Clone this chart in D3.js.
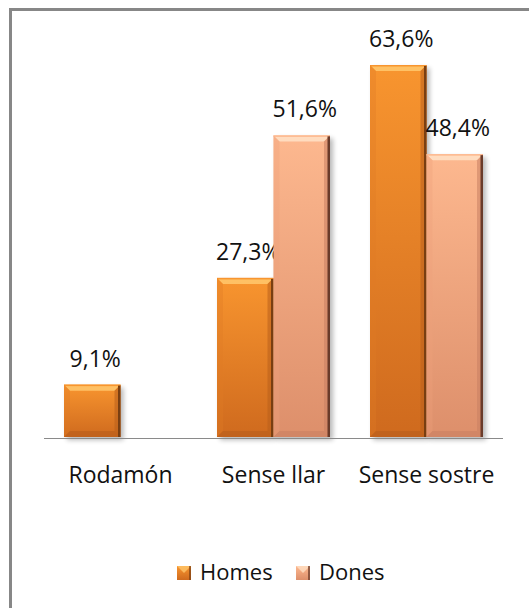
<!DOCTYPE html>
<html><head><meta charset="utf-8">
<script src="https://cdn.jsdelivr.net/npm/d3@7"></script>
<style>body{margin:0;background:#fff}svg{display:block}text{font-family:"Open Sans",sans-serif;fill:#111}</style>
</head><body>
<script>
const categories = ["Rodamón", "Sense llar", "Sense sostre"];
const seriesNames = ["Homes", "Dones"];
const homes = [9.1, 27.3, 63.6];
const dones = [null, 51.6, 48.4];
const valueLabels = [["9,1%", "27,3%", "63,6%"], [null, "51,6%", "48,4%"]];

const W = 529, H = 608;
const svg = d3.select("body").append("svg").attr("width", W).attr("height", H);
svg.append("rect").attr("width", W).attr("height", H).attr("fill", "#fff");

const defs = svg.append("defs");
const styles = {
  Homes: {top:"#F8952F", bot:"#CF6A1E", hi:"#FFC56A", edge:"#7A3F12", botBevel:"#B85E1C", left:"#E07A24"},
  Dones: {top:"#FDB88F", bot:"#DD8F6B", hi:"#FFE0C4", edge:"#6A3B2A", botBevel:"#C98062", left:"#EFA07A"}
};
Object.entries(styles).forEach(([k, s]) => {
  const g = defs.append("linearGradient").attr("id", "g" + k).attr("x1", 0).attr("x2", 0).attr("y1", 0).attr("y2", 1);
  g.append("stop").attr("offset", "0%").attr("stop-color", s.top);
  g.append("stop").attr("offset", "100%").attr("stop-color", s.bot);
});
const f = defs.append("filter").attr("id", "shadow").attr("x", "-20%").attr("y", "-10%").attr("width", "150%").attr("height", "130%");
f.append("feGaussianBlur").attr("stdDeviation", 2.5);

// frame
svg.append("line").attr("x1", 9).attr("x2", W).attr("y1", 9.5).attr("y2", 9.5).attr("stroke", "#878787").attr("stroke-width", 3);
svg.append("line").attr("x1", 10.5).attr("x2", 10.5).attr("y1", 8).attr("y2", H).attr("stroke", "#878787").attr("stroke-width", 3);

const x0 = d3.scaleBand().domain(categories).range([44, 503]).paddingInner(0).paddingOuter(0);
const x1 = d3.scaleBand().domain(seriesNames).range([20, x0.bandwidth() - 20]).padding(0);
const y = d3.scaleLinear().domain([0, 63.6]).range([438, 65]);

const data = [];
categories.forEach((c, i) => {
  [homes[i], dones[i]].forEach((v, j) => {
    if (v != null) data.push({cat: c, ser: seriesNames[j], v, label: valueLabels[j][i]});
  });
});

const bars = svg.append("g");
data.forEach(d => {
  const s = styles[d.ser];
  const xl = x0(d.cat) + x1(d.ser), w = x1.bandwidth();
  const yt = y(d.v), yb = y(0) - 1, h = yb - yt;
  const g = bars.append("g");
  // shadow
  g.append("rect").attr("x", xl + 3).attr("y", yt + 3).attr("width", w).attr("height", h).attr("fill", "#000").attr("opacity", 0.28).attr("filter", "url(#shadow)");
  g.append("rect").attr("x", xl).attr("y", yt).attr("width", w).attr("height", h).attr("fill", `url(#g${d.ser})`);
  const b = 6;
  // top bevel
  g.append("polygon").attr("points", [[xl, yt], [xl + w, yt], [xl + w - b, yt + b], [xl + b, yt + b]].join(" ")).attr("fill", s.hi).attr("opacity", 0.9);
  g.append("rect").attr("x", xl).attr("y", yt).attr("width", w).attr("height", 1.5).attr("fill", s.top);
  // left bevel
  g.append("polygon").attr("points", [[xl, yt], [xl + b, yt + b], [xl + b, yb - b], [xl, yb]].join(" ")).attr("fill", s.left).attr("opacity", 0.35);
  // bottom bevel
  g.append("polygon").attr("points", [[xl, yb], [xl + b, yb - b], [xl + w - b, yb - b], [xl + w, yb]].join(" ")).attr("fill", s.botBevel).attr("opacity", 0.6);
  // right bevel
  g.append("polygon").attr("points", [[xl + w, yt], [xl + w, yb], [xl + w - b, yb - b], [xl + w - b, yt + b]].join(" ")).attr("fill", s.botBevel).attr("opacity", 0.55);
  g.append("rect").attr("x", xl + w - 2.5).attr("y", yt + 1).attr("width", 2.5).attr("height", h - 1).attr("fill", s.edge);
  g.append("text").attr("x", xl + w / 2 + 3).attr("y", yt - 18).attr("text-anchor", "middle").attr("font-size", 23).text(d.label);
});

// axis line
svg.append("line").attr("x1", 44).attr("x2", 503).attr("y1", y(0) + 0.5).attr("y2", y(0) + 0.5).attr("stroke", "#8a8a8a").attr("stroke-width", 1);

// category labels
const xAxis = d3.axisBottom(x0).tickSize(0).tickPadding(0);
const ax = svg.append("g").attr("transform", `translate(0,${y(0)})`).call(xAxis);
ax.select(".domain").remove();
ax.selectAll("text").attr("font-size", 23).attr("fill", "#111").attr("dy", null).attr("y", 45)
  .style("font-family", '"Open Sans",sans-serif');

// legend
const legend = svg.append("g");
const legX = [177, 296];
seriesNames.forEach((n, i) => {
  const s = styles[n];
  const lx = legX[i], ly = 566, sz = 14;
  legend.append("rect").attr("x", lx).attr("y", ly).attr("width", sz).attr("height", sz).attr("fill", `url(#g${n})`);
  legend.append("polygon").attr("points", [[lx, ly], [lx + sz, ly], [lx + sz / 2, ly + sz / 2]].join(" ")).attr("fill", s.hi).attr("opacity", 0.8);
  legend.append("rect").attr("x", lx + sz - 2).attr("y", ly).attr("width", 2).attr("height", sz).attr("fill", s.edge).attr("opacity", 0.7);
  legend.append("text").attr("x", lx + 23).attr("y", 580).attr("font-size", 22).text(n);
});
</script>
</body></html>
